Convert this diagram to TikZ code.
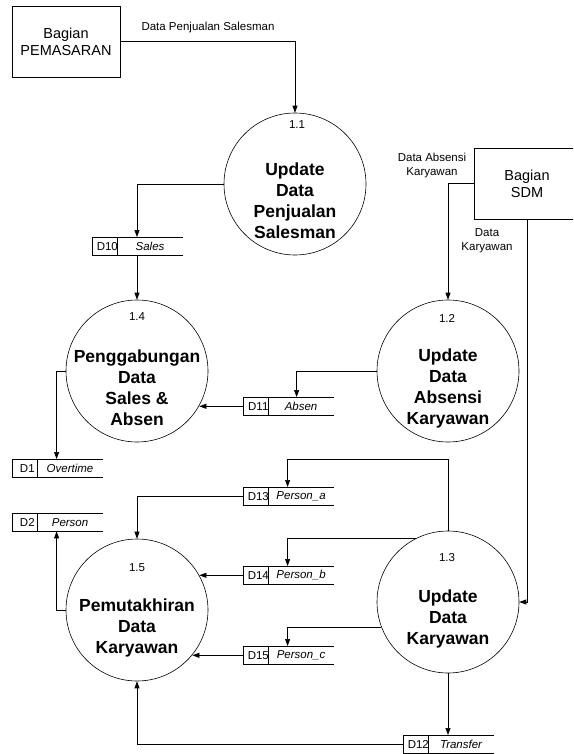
\documentclass[tikz,border=0pt]{standalone}
\usepackage{fontspec}
\setmainfont{Liberation Sans}
\usetikzlibrary{arrows.meta}

% data store: framed id cell followed by an open-ended name cell
\newcommand{\dfstore}[5]{%
  \node[sid] (#1) at (#2,#3) {};
  \node[sidtext] at ([xshift=2.5pt]#1.center) {#4};
  \node[sname] (#1n) at (#1.north east) {#5};
  \draw[line width=0.6pt] (#1n.north west) -- (#1n.north east);
  \draw[line width=1.2pt] (#1n.south west) -- (#1n.south east);
}

\begin{document}
\begin{tikzpicture}[x=1pt,y=-1pt,
  flow/.style={draw, line width=0.7pt, -{Triangle[length=7pt,width=5pt]}},
  ext/.style={draw, line width=0.7pt, rectangle, inner sep=0pt, align=center,
    font=\fontsize{14.5}{17}\selectfont},
  proc/.style={draw, circle, line width=0.6pt, minimum size=142pt, inner sep=0pt},
  ptext/.style={align=center, font=\fontsize{17.5}{21}\bfseries\selectfont},
  pnum/.style={font=\fontsize{11.5}{13}\selectfont},
  lbl/.style={align=center, font=\fontsize{11.5}{14}\selectfont},
  sid/.style={draw, line width=0.6pt, rectangle, minimum width=25pt,
    minimum height=18pt, inner sep=0pt, anchor=north west},
  sidtext/.style={inner sep=0pt, font=\fontsize{11.5}{13}\selectfont},
  sname/.style={rectangle, minimum width=64.5pt, minimum height=18pt,
    inner sep=0pt, anchor=north west, font=\fontsize{11.5}{13}\itshape\selectfont},
]
\useasboundingbox (0,0) rectangle (573,754);
\clip (0,0) rectangle (573,754);

% external entities
\node[ext, minimum width=108pt, minimum height=71pt] (pem) at (66,41.5) {Bagian\\PEMASARAN};
\node[ext, minimum width=106pt, minimum height=71pt] (sdm) at (527,183.5) {Bagian\\SDM};

% processes
\node[proc] (p11) at (295,184) {};
\node[proc] (p12) at (448,371) {};
\node[proc] (p14) at (137,371) {};
\node[proc] (p13) at (448,602) {};
\node[proc] (p15) at (137,610) {};

\node[pnum] at (297,125) {1.1};
\node[pnum] at (447,318) {1.2};
\node[pnum] at (137,317) {1.4};
\node[pnum] at (447,558) {1.3};
\node[pnum] at (137,568) {1.5};

\node[ptext] at ([yshift=-17pt]p11.center) {Update\\Data\\Penjualan\\Salesman};
\node[ptext] at ([yshift=-17pt]p12.center) {Update\\Data\\Absensi\\Karyawan};
\node[ptext] at ([yshift=-17pt]p14.center) {Penggabungan\\Data\\Sales \&\\Absen};
\node[ptext] at ([yshift=-17pt]p13.center) {Update\\Data\\Karyawan};
\node[ptext] at ([yshift=-18pt]p15.center) {Pemutakhiran\\Data\\Karyawan};

% data stores
\dfstore{d10}{92}{237}{D10}{Sales}
\dfstore{d11}{243}{397}{D11}{Absen}
\dfstore{d1}{12}{459}{D1}{Overtime}
\dfstore{d2}{12}{513}{D2}{Person}
\dfstore{d13}{243}{487}{D13}{Person\_a}
\dfstore{d14}{243}{566}{D14}{Person\_b}
\dfstore{d15}{243}{646}{D15}{Person\_c}
\dfstore{d12}{403}{735}{D12}{Transfer}

% flow labels
\node[lbl] at (208,28) {Data Penjualan Salesman};
\node[lbl] at (432,166) {Data Absensi\\Karyawan};
\node[lbl] at (487,241) {Data\\Karyawan};

% data flows
\coordinate (j13) at (0,459);
\draw[flow] (pem.east) -| (p11.north);
\draw[flow] (p11.west) -| (p14.north |- d10n.north);
\draw[flow] (p14.north |- d10n.south) -- (p14.north);
\draw[flow] (sdm.west) -| (p12.north);
\draw[flow] (sdm.south) |- (p13.east);
\draw[flow] (p12.west) -| ([xshift=28pt]d11n.north west);
\draw[flow] (d11.west) -- (d11.west -| p14.-29.5);
\draw[flow] (p14.west) -| ([xshift=19pt]d1n.north west);
\draw[flow] (p15.west) -| ([xshift=19pt]d2n.south west);
\draw[flow] (d13.west) -| (p15.north);
\draw[flow] (p13.north) -- (p13.north |- j13) -| ([xshift=19pt]d13n.north west);
\draw[flow] (p13.117.5) -| ([xshift=19pt]d14n.north west);
\draw[flow] (d14.west) -- (d14.west -| p15.29.5);
\draw[flow] (p13.201.5) -| ([xshift=19pt]d15n.north west);
\draw[flow] (d15.west) -- (d15.west -| p15.-39.3);
\draw[flow] (p13.south) -- (p13.south |- d12n.north);
\draw[flow] (d12.west) -| (p15.south);
\end{tikzpicture}
\end{document}
